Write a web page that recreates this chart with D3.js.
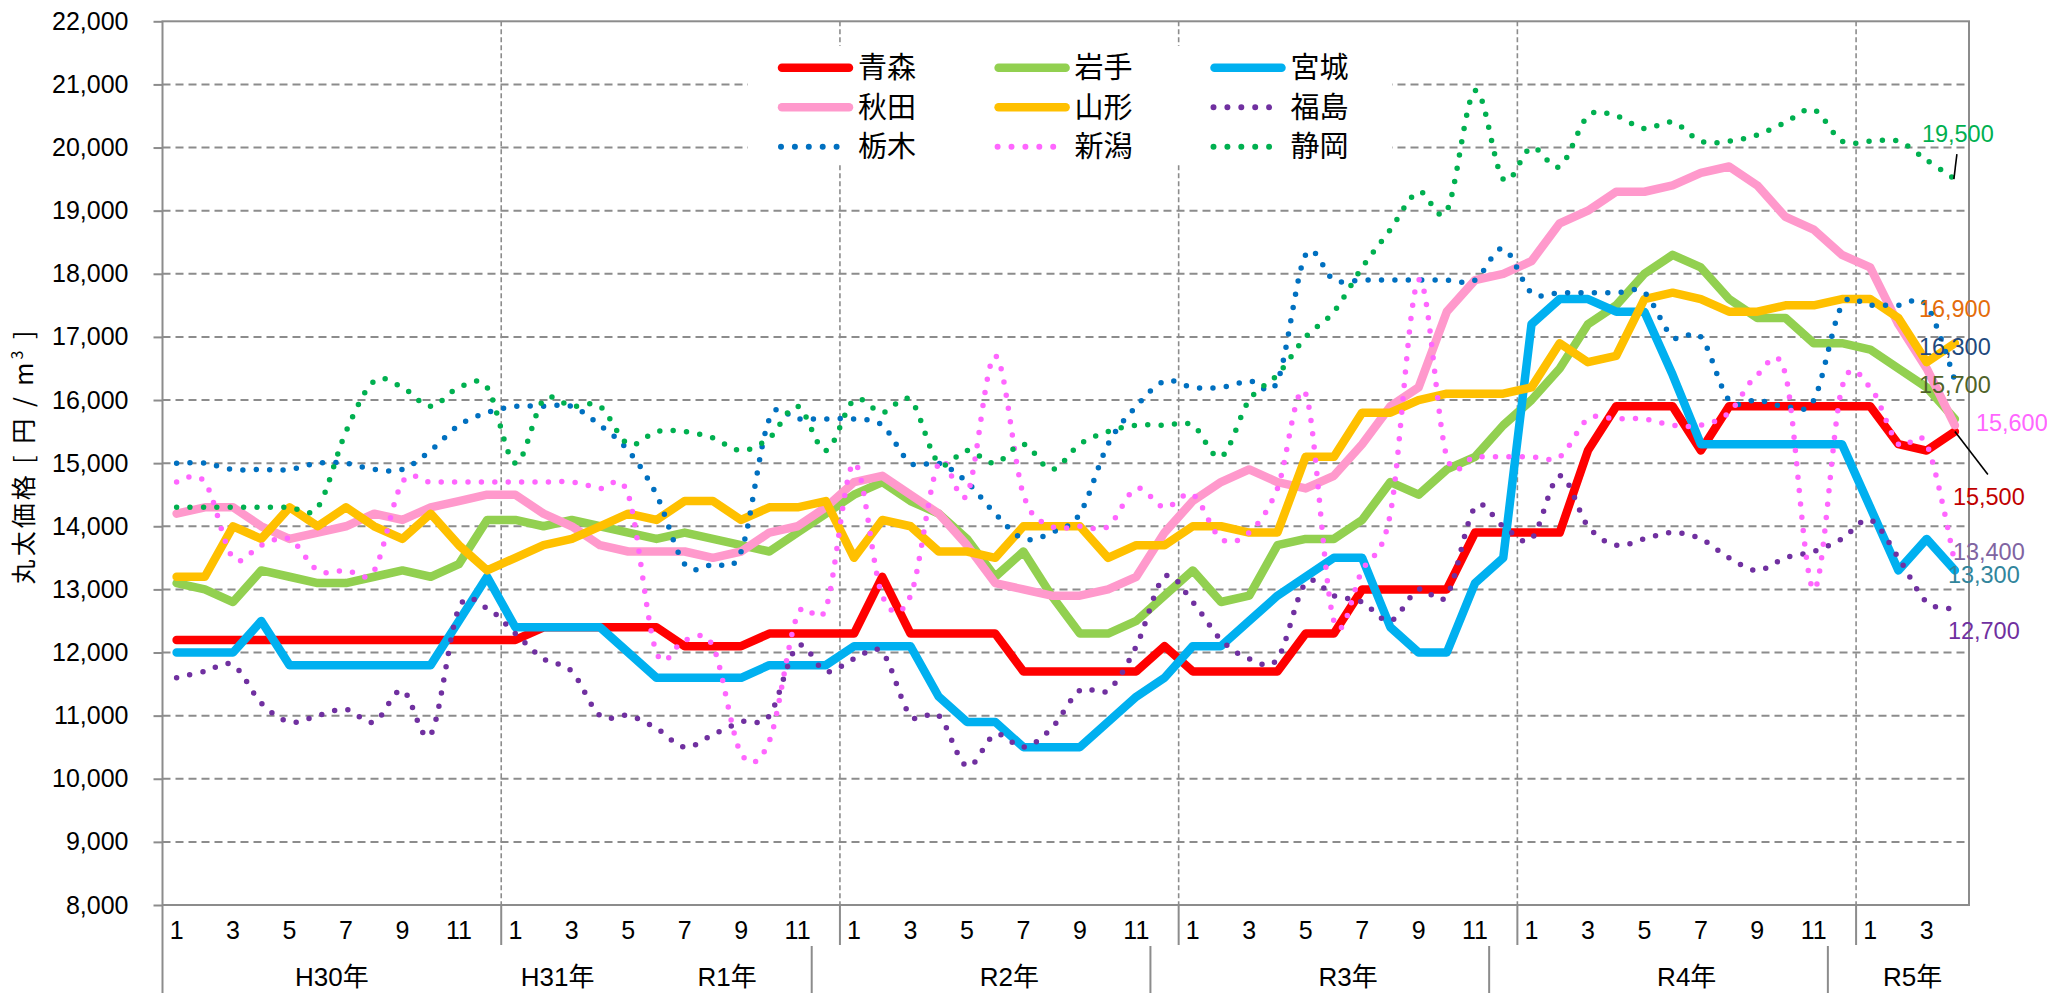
<!DOCTYPE html>
<html>
<head>
<meta charset="utf-8">
<script src="https://cdn.jsdelivr.net/npm/d3@7"></script>
<style>
  body { margin: 0; background: #fff; }
  svg { display: block; }
  text { font-family: "Liberation Sans", "Noto Sans CJK JP", sans-serif; fill: #000; }
  .cjk { font-family: "Noto Sans CJK JP", sans-serif; }
</style>
</head>
<body>
<svg id="chart" width="2047" height="993"></svg>
<script>
// ---- categories: fiscal-era years and their months ----
const yearLabels     = ["H30年", "H31年", "R1年", "R2年", "R3年", "R4年", "R5年"];
const yearFirstMonth = [1, 1, 5, 1, 1, 1, 1];
const yearMonthCount = [12, 4, 8, 12, 12, 12, 4];
// separators of the lower (year) label row, given as category index they precede
const yearRowBreaks  = [23, 35, 47, 59];

// ---- value axis ----
const yTicks = [8000, 9000, 10000, 11000, 12000, 13000, 14000, 15000,
                16000, 17000, 18000, 19000, 20000, 21000, 22000];

// ---- log prices (円/m3), one value per month ----
const aomori = [12200,12200,12200,12200,12200,12200,12200,12200,12200,12200,12200,12200,
  12200,12400,12400,12400,12400,12400,12100,12100,12100,12300,12300,12300,
  12300,13200,12300,12300,12300,12300,11700,11700,11700,11700,11700,12100,
  11700,11700,11700,11700,12300,12300,13000,13000,13000,13000,13900,13900,
  13900,13900,15200,15900,15900,15900,15200,15900,15900,15900,15900,15900,
  15900,15300,15200,15500];
const iwate = [13100,13000,12800,13300,13200,13100,13100,13200,13300,13200,13400,14100,
  14100,14000,14100,14000,13900,13800,13900,13800,13700,13600,13900,14200,
  14500,14700,14400,14200,13800,13200,13600,12900,12300,12300,12500,12900,
  13300,12800,12900,13700,13800,13800,14100,14700,14500,14900,15100,15600,
  16000,16500,17200,17500,18000,18300,18100,17600,17300,17300,16900,16900,
  16800,16500,16200,15700];
const miyagi = [12000,12000,12000,12500,11800,11800,11800,11800,11800,11800,12500,13200,
  12400,12400,12400,12400,12000,11600,11600,11600,11600,11800,11800,11800,
  12100,12100,12100,11300,10900,10900,10500,10500,10500,10900,11300,11600,
  12100,12100,12500,12900,13200,13500,13500,12400,12000,12000,13100,13500,
  17200,17600,17600,17400,17400,16400,15300,15300,15300,15300,15300,15300,
  14300,13300,13800,13300];
const akita = [14200,14300,14300,14000,13800,13900,14000,14200,14100,14300,14400,14500,
  14500,14200,14000,13700,13600,13600,13600,13500,13600,13900,14000,14300,
  14700,14800,14500,14200,13700,13100,13000,12900,12900,13000,13200,13900,
  14400,14700,14900,14700,14600,14800,15300,15900,16200,17400,17900,18000,
  18200,18800,19000,19300,19300,19400,19600,19700,19400,18900,18700,18300,
  18100,17200,16500,15600];
const yamagata = [13200,13200,14000,13800,14300,14000,14300,14000,13800,14200,13700,13300,
  13500,13700,13800,14000,14200,14100,14400,14400,14100,14300,14300,14400,
  13500,14100,14000,13600,13600,13500,14000,14000,14000,13500,13700,13700,
  14000,14000,13900,13900,15100,15100,15800,15800,16000,16100,16100,16100,
  16200,16900,16600,16700,17600,17700,17600,17400,17400,17500,17500,17600,
  17600,17300,16600,16900];
const fukushima = [11600,11700,11800,11200,10900,11000,11100,10900,11400,10700,12700,12700,
  12300,11900,11700,11000,11000,10800,10500,10700,10900,11000,12100,11700,
  11900,12000,11000,11000,10200,10700,10500,10800,11400,11400,12100,13200,
  12800,12200,11900,11900,13100,12900,12800,12500,13000,12900,14300,14000,
  13800,14800,14000,13700,13800,13900,13800,13500,13300,13500,13600,13800,
  14100,13500,12800,12700];
const tochigi = [15000,15000,14900,14900,14900,15000,15000,14900,14900,15200,15600,15800,
  15900,15900,15900,15600,15200,14500,13400,13400,13600,15700,15700,15700,
  15700,15600,15000,15000,14700,14200,13800,13900,14200,15300,15900,16300,
  16200,16200,16300,16300,18300,17900,17900,17900,17900,17900,17900,18400,
  17700,17700,17700,17700,17700,17000,17000,16000,16000,15900,16000,17500,
  17500,17500,17500,16300];
const niigata = [14700,14700,13500,13700,13800,13300,13300,13300,14700,14700,14700,14700,
  14700,14700,14700,14600,14500,12000,12200,12100,10400,10600,12600,12700,
  15000,12900,12900,15000,14500,16700,14500,14000,14000,14000,14600,14300,
  14500,13800,13900,14600,16100,12500,13300,14200,17900,15100,15100,15100,
  15100,15100,15700,15700,15700,15600,15600,15800,16400,16400,13000,16200,
  16200,15300,15300,13400];
const shizuoka = [14300,14300,14300,14300,14300,14300,15500,16300,16200,15900,16200,16200,
  15000,16000,15900,15900,15300,15500,15500,15400,15200,15400,15900,15200,
  16000,15800,16000,15000,15200,15000,15300,14900,15300,15500,15600,15600,
  15600,15100,16000,16400,17000,17400,18100,18700,19300,19000,20900,19500,
  20000,19700,20500,20500,20300,20400,20100,20100,20200,20400,20600,20100,
  20100,20100,19800,19500];

// ---- series styling (drawing order = list order) ----
const series = [
  { name: "青森", values: aomori,    color: "#FF0000", dotted: false, labelColor: "#C00000", ldx: -2,  ldy: 65,  leader: [0, 0, 33, 43] },
  { name: "岩手", values: iwate,     color: "#92D050", dotted: false, labelColor: "#4F6228", ldx: -36, ldy: -34 },
  { name: "宮城", values: miyagi,    color: "#00B0F0", dotted: false, labelColor: "#31859C", ldx: -7,  ldy: 4 },
  { name: "秋田", values: akita,     color: "#FF99CC", dotted: false, labelColor: "#FF66FF", ldx: 21,  ldy: -3 },
  { name: "山形", values: yamagata,  color: "#FFC000", dotted: false, labelColor: "#E46C0A", ldx: -36, ldy: -34 },
  { name: "福島", values: fukushima, color: "#7030A0", dotted: true,  labelColor: "#7030A0", ldx: -7,  ldy: 22 },
  { name: "栃木", values: tochigi,   color: "#0070C0", dotted: true,  labelColor: "#1F497D", ldx: -36, ldy: -34 },
  { name: "新潟", values: niigata,   color: "#FF66FF", dotted: true,  labelColor: "#8064A2", ldx: -2,  ldy: -12 },
  { name: "静岡", values: shizuoka,  color: "#00B050", dotted: true,  labelColor: "#00B050", ldx: -33, ldy: -45, leader: [-1, 0, 2, -25] }
];

// ---- build category list ----
const cats = [];
yearLabels.forEach((yl, i) => {
  for (let m = 0; m < yearMonthCount[i]; m++) cats.push({ year: i, month: yearFirstMonth[i] + m });
});

const svg = d3.select("#chart");
const plot = { left: 162.5, right: 1969, top: 21.3, bottom: 905 };
const axisColor = "#8C8C8C";

const x = d3.scalePoint().domain(d3.range(cats.length)).range([plot.left, plot.right]).padding(0.5);
const step = x.step();
const y = d3.scaleLinear().domain([yTicks[0], yTicks[yTicks.length - 1]]).range([plot.bottom, plot.top]);

// calendar-year boundaries (a new year begins in January)
const yearStarts = cats.map((c, i) => (i > 0 && c.month === 1) ? i : null).filter(v => v !== null);

// ---- grid ----
const grid = svg.append("g");
grid.selectAll("line.h").data(yTicks.slice(1, -1)).join("line")
  .attr("x1", plot.left).attr("x2", plot.right)
  .attr("y1", d => y(d)).attr("y2", d => y(d))
  .attr("stroke", axisColor).attr("stroke-width", 2).attr("stroke-dasharray", "8 5");
grid.selectAll("line.v").data(yearStarts).join("line")
  .attr("x1", d => x(d) - step / 2).attr("x2", d => x(d) - step / 2)
  .attr("y1", plot.top).attr("y2", plot.bottom)
  .attr("stroke", axisColor).attr("stroke-width", 1.6).attr("stroke-dasharray", "5 3");

// ---- plot frame ----
svg.append("rect")
  .attr("x", plot.left).attr("y", plot.top)
  .attr("width", plot.right - plot.left).attr("height", plot.bottom - plot.top)
  .attr("fill", "none").attr("stroke", axisColor).attr("stroke-width", 2);

// ---- y axis ----
const yAxis = svg.append("g")
  .attr("transform", `translate(${plot.left},0)`)
  .call(d3.axisLeft(y).tickValues(yTicks).tickFormat(d3.format(",")).tickSize(9).tickPadding(25));
yAxis.select(".domain").remove();
yAxis.selectAll(".tick line").attr("stroke", axisColor).attr("stroke-width", 2);
yAxis.selectAll(".tick text").attr("font-size", 25)
  .attr("font-family", "Liberation Sans, sans-serif").attr("fill", "#000");

// y axis title
const yt = svg.append("text")
  .attr("transform", `translate(33,456) rotate(-90)`)
  .attr("text-anchor", "middle")
  .attr("font-size", 25)
  .attr("letter-spacing", 3)
  .attr("class", "cjk");
yt.append("tspan").text("丸太価格 [ 円 / m");
yt.append("tspan").text("3").attr("font-size", 16).attr("dy", -10);
yt.append("tspan").text(" ]").attr("dy", 10);

// ---- category axis (two label rows) ----
const xa = svg.append("g");
xa.append("line").attr("x1", plot.left).attr("x2", plot.left)
  .attr("y1", plot.bottom).attr("y2", 993).attr("stroke", axisColor).attr("stroke-width", 2);
xa.selectAll("line.mb").data(yearStarts).join("line")
  .attr("x1", d => x(d) - step / 2).attr("x2", d => x(d) - step / 2)
  .attr("y1", plot.bottom).attr("y2", 945)
  .attr("stroke", axisColor).attr("stroke-width", 2);
xa.selectAll("line.yb").data(yearRowBreaks).join("line")
  .attr("x1", d => x(d) - step / 2).attr("x2", d => x(d) - step / 2)
  .attr("y1", 946).attr("y2", 993)
  .attr("stroke", axisColor).attr("stroke-width", 2);
xa.selectAll("text.m").data(cats.map((c, i) => ({ c, i })).filter(d => d.c.month % 2 === 1)).join("text")
  .attr("x", d => x(d.i)).attr("y", 939)
  .attr("text-anchor", "middle").attr("font-size", 25)
  .text(d => d.c.month);
const groups = yearLabels.map((yl, gi) => {
  const idx = cats.map((c, i) => c.year === gi ? i : -1).filter(i => i >= 0);
  return { label: yl, first: idx[0], last: idx[idx.length - 1] };
});
xa.selectAll("text.y").data(groups).join("text")
  .attr("x", d => ((x(d.first) - step / 2) + (x(d.last) + step / 2)) / 2)
  .attr("y", 986).attr("text-anchor", "middle").attr("font-size", 26)
  .text(d => d.label);

// ---- series lines ----
const lineStraight = d3.line().x((d, i) => x(i)).y(d => y(d));
const lineSmooth = d3.line().x((d, i) => x(i)).y(d => y(d)).curve(d3.curveCardinal.tension(0));
const lines = svg.append("g");
series.forEach(s => {
  const p = lines.append("path")
    .attr("d", (s.dotted ? lineSmooth : lineStraight)(s.values))
    .attr("fill", "none").attr("stroke", s.color)
    .attr("stroke-linejoin", "round").attr("stroke-linecap", "round");
  if (s.dotted) p.attr("stroke-width", 5.5).attr("stroke-dasharray", "0 13.4");
  else p.attr("stroke-width", 8.5);
});

// ---- end-of-series value labels ----
const fmt = d3.format(",");
const lab = svg.append("g");
series.forEach(s => {
  const n = s.values.length - 1;
  const px = x(n), py = y(s.values[n]);
  if (s.leader) {
    lab.append("line")
      .attr("x1", px + s.leader[0]).attr("y1", py + s.leader[1])
      .attr("x2", px + s.leader[2]).attr("y2", py + s.leader[3])
      .attr("stroke", "#000").attr("stroke-width", 1.6);
  }
  lab.append("text")
    .attr("x", px + s.ldx).attr("y", py + s.ldy)
    .attr("dy", "0.35em").attr("font-size", 23.5)
    .style("fill", s.labelColor)
    .text(fmt(s.values[n]));
});

// ---- legend ----
const legend = svg.append("g");
legend.append("rect").attr("x", 748).attr("y", 46).attr("width", 644).attr("height", 119).attr("fill", "#fff");
const legCols = [778, 994.6, 1210.5];
const legRows = [67.7, 107.3, 146.7];
series.forEach((s, i) => {
  const cx = legCols[i % 3], cy = legRows[Math.floor(i / 3)];
  if (s.dotted) {
    legend.append("line").attr("x1", cx + 3).attr("x2", cx + 3 + 4 * 13.9 + 0.1)
      .attr("y1", cy).attr("y2", cy)
      .attr("stroke", s.color).attr("stroke-width", 6)
      .attr("stroke-linecap", "round").attr("stroke-dasharray", "0 13.9");
  } else {
    legend.append("line").attr("x1", cx + 4).attr("x2", cx + 71)
      .attr("y1", cy).attr("y2", cy)
      .attr("stroke", s.color).attr("stroke-width", 8.5).attr("stroke-linecap", "round");
  }
  legend.append("text").attr("class", "cjk")
    .attr("x", cx + 80).attr("y", cy).attr("dy", "0.36em")
    .attr("font-size", 29).text(s.name);
});
</script>
</body>
</html>
